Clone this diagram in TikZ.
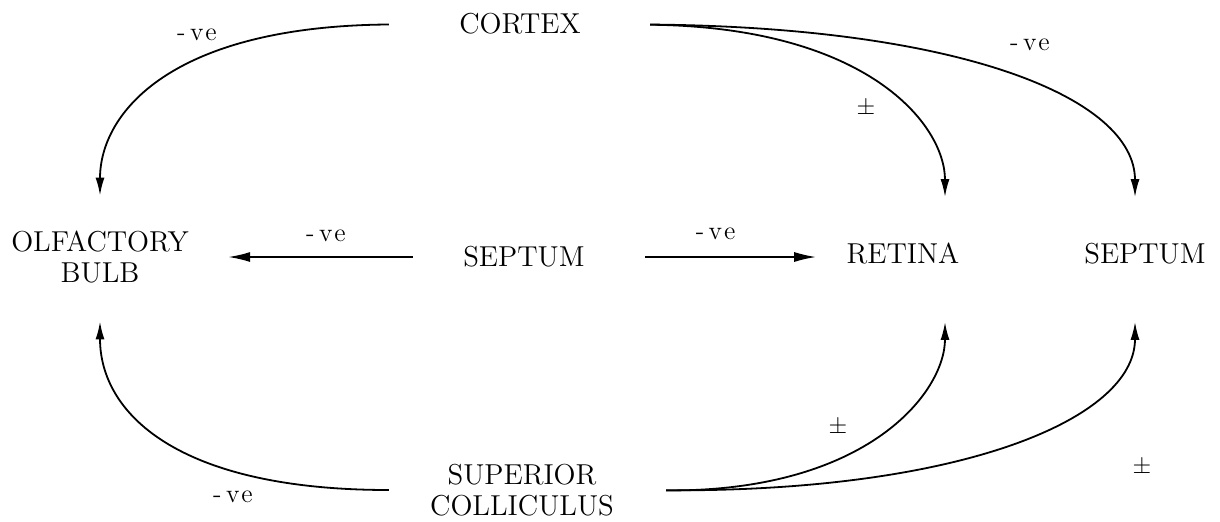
\documentclass[tikz,border=0pt]{standalone}
\usepackage{amsmath,amssymb}
\usetikzlibrary{positioning,arrows.meta}

\begin{document}
\begin{tikzpicture}[
  x=0.5pt, y=-0.5pt,
  region/.style={
    align=center,
    inner sep=0pt,
    font=\fontsize{14.4}{15.5}\selectfont
  },
  sign/.style={inner sep=0pt,font=\fontsize{13}{15}\selectfont},
  edge/.style={draw=black,line width=.9pt,-{Latex[length=9pt,width=4.5pt]}},
  straight/.style={edge,-{Latex[length=11pt,width=5pt]}}
]
  \useasboundingbox (0,0) rectangle (1220,521);

  \node[region] (cortex) at (520,24) {CORTEX};
  \node[region] (olf) at (100,257) {OLFACTORY\\BULB};
  \node[region] (septum) at (524,257) {SEPTUM};
  \node[region] (retina) at (903,254) {RETINA};
  \node[region] (septumR) at (1145,254) {SEPTUM};
  \node[region] (sc) at (522,490) {SUPERIOR\\COLLICULUS};

  % from the cortex
  \draw[edge,shorten <=35pt,shorten >=17.5pt] (cortex.west)
    .. controls (171,26) and (100,113) .. (olf.north);
  \draw[edge,shorten <=34.5pt,shorten >=23pt] (cortex.east)
    .. controls (868,27) and (945,125) .. ([xshift=21pt]retina.north);
  \draw[edge,shorten <=34.5pt,shorten >=23pt] (cortex.east)
    .. controls (961,27) and (1135,98) .. ([xshift=-5pt]septumR.north);

  % from the septum
  \draw[straight,shorten <=25pt,shorten >=19.5pt] (septum.west) -- (septum.west -| olf.east)
    node[sign,midway,above=7pt] (veL) {-\,v\kern1pt e};
  \draw[straight,shorten <=30pt,shorten >=15pt] (septum.east) -- (septum.east -| retina.west)
    node[sign,midway,above=8pt] (veR) {-\,v\kern1pt e};

  % from the superior colliculus
  \draw[edge,shorten <=20.5pt,shorten >=19pt] (sc.west)
    .. controls (177,490) and (100,413) .. (olf.south);
  \draw[edge,shorten <=26pt,shorten >=28.5pt] (sc.east)
    .. controls (868,492) and (945,392) .. ([xshift=21pt]retina.south);
  \draw[edge,shorten <=26pt,shorten >=28.5pt] (sc.east)
    .. controls (961,492) and (1135,419) .. ([xshift=-5pt]septumR.south);

  \node[sign] (veTL) at (197,35) {-\,v\kern1pt e};
  \node[sign] (veTR) at (1030,45) {-\,v\kern1pt e};
  \node[sign] (veBL) at (233,497) {-\,v\kern1pt e};
  \node[sign] (pmT) at (866,108) {$\pm$};
  \node[sign] (pmB) at (838,427) {$\pm$};
  \node[sign] (pmBR) at (1142,467) {$\pm$};
\end{tikzpicture}
\end{document}
